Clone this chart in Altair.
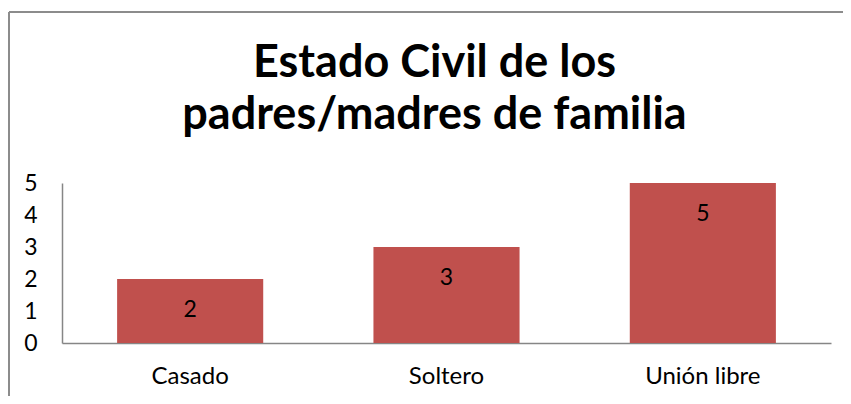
import altair as alt
import pandas as pd

categories = ["Casado", "Soltero", "Unión libre"]
counts = [2, 3, 5]
title_lines = ["Estado Civil de los", "padres/madres de familia"]

df = pd.DataFrame({"estado": categories, "n": counts})
frame = pd.DataFrame({"k": [0]})

FONT = "Lato"
AXIS_GRAY = "#868686"

x_enc = alt.X(
    "estado:N", sort=categories, title=None,
    scale=alt.Scale(paddingInner=0.43, paddingOuter=0.215),
    axis=alt.Axis(labelAngle=0, ticks=False, tickSize=0, labelPadding=21,
                  labelFontSize=24, labelFont=FONT, labelColor="#000000",
                  domainColor=AXIS_GRAY, domainWidth=1.5),
)
y_enc = alt.Y(
    "n:Q", title=None,
    scale=alt.Scale(domain=[0, 5], nice=False),
    axis=alt.Axis(values=[0, 1, 2, 3, 4, 5], grid=False, ticks=False, tickSize=0,
                  labelOverlap=False, labelPadding=25, labelFontSize=23,
                  labelFont=FONT, labelColor="#000000",
                  domainColor=AXIS_GRAY, domainWidth=1.5),
)

base = alt.Chart(df)
bars = base.mark_bar(color="#C0504D").encode(x=x_enc, y=y_enc)
labels = base.mark_text(baseline="middle", dy=31, fontSize=23, font=FONT,
                        color="#000000").encode(
    x=x_enc,
    y=y_enc,
    text="n:Q",
)

border_top = alt.Chart(frame).mark_rule(color="#8c8c8c", strokeWidth=2).encode(
    x=alt.value(-53), x2=alt.value(800), y=alt.value(-171))
border_left = alt.Chart(frame).mark_rule(color="#8c8c8c", strokeWidth=2).encode(
    x=alt.value(-53), y=alt.value(-171), y2=alt.value(220))

chart = alt.layer(bars, labels, border_top, border_left).properties(
    width=769, height=160,
    autosize=alt.AutoSizeParams(type="none"),
    padding={"left": 54, "top": 175, "right": 12, "bottom": 53},
    title=alt.TitleParams(text=title_lines, font=FONT, fontSize=45,
                          fontWeight="bold", color="#000000", anchor="middle",
                          dx=-12, dy=147, offset=20, lineHeight=52),
).configure_view(stroke=None)

chart.save("out.html", embed_options={"renderer": "svg", "actions": False})
